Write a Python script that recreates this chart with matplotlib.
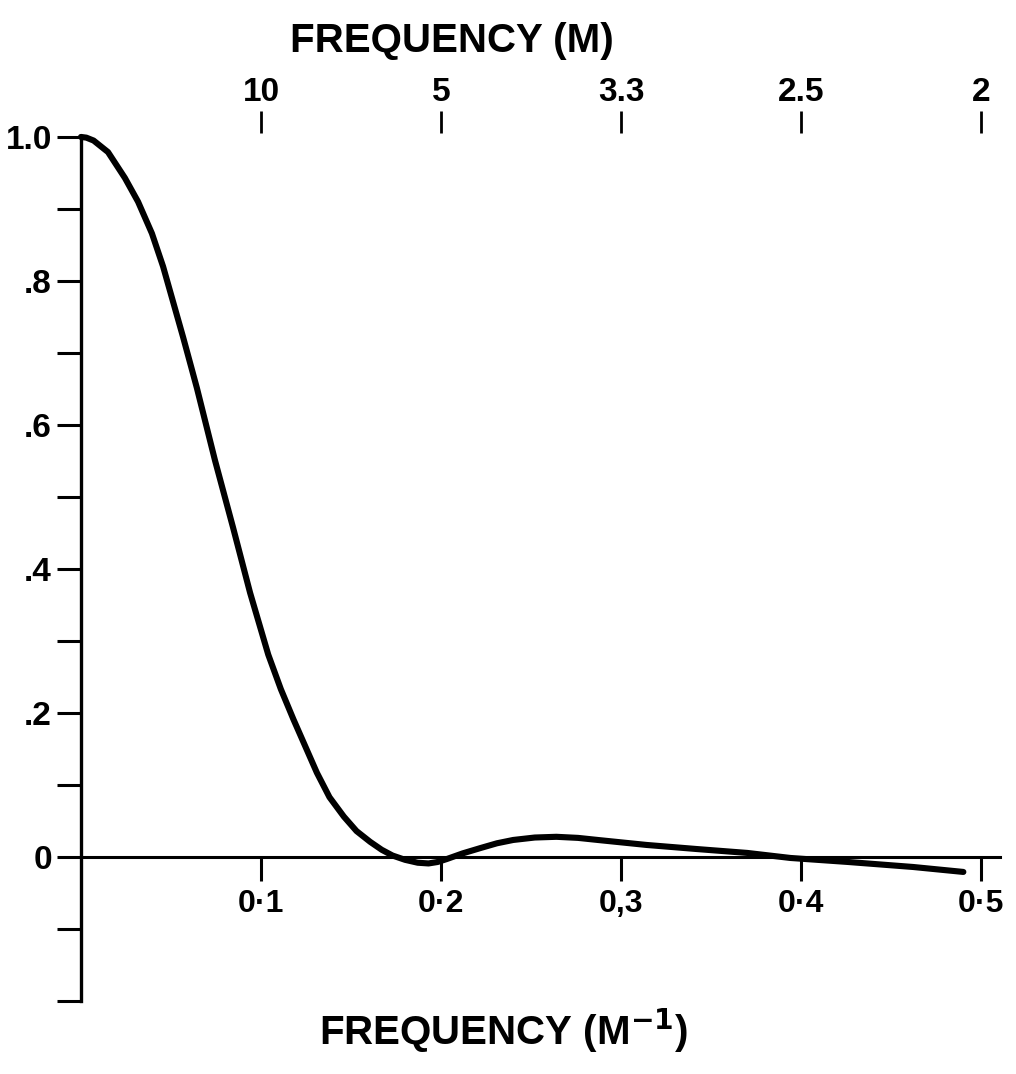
import matplotlib
matplotlib.use("Agg")
import matplotlib.pyplot as plt

# curve
freq = [0.0, 0.003, 0.007, 0.015, 0.0244, 0.0317, 0.0394, 0.0456, 0.0567, 0.0617,
        0.0644, 0.0744, 0.0844, 0.0939, 0.104, 0.111, 0.118, 0.131, 0.138, 0.146,
        0.153, 0.1606, 0.167, 0.173, 0.180, 0.187, 0.193, 0.198, 0.203, 0.212,
        0.222, 0.231, 0.240, 0.252, 0.264, 0.276, 0.287, 0.314, 0.342, 0.370,
        0.394, 0.4256, 0.462, 0.490]
resp = [1.0, 0.999, 0.995, 0.979, 0.943, 0.910, 0.866, 0.820, 0.722, 0.676,
        0.651, 0.551, 0.458, 0.367, 0.281, 0.233, 0.191, 0.117, 0.083, 0.056,
        0.036, 0.021, 0.010, 0.002, -0.004, -0.008, -0.009, -0.007, -0.003, 0.005,
        0.0125, 0.019, 0.0236, 0.027, 0.028, 0.0265, 0.0236, 0.0167, 0.011, 0.0056,
        -0.0014, -0.0069, -0.0139, -0.0208]

x_ticks = [0.1, 0.2, 0.3, 0.4, 0.5]
x_ticklabels = ["0·1", "0·2", "0,3", "0·4", "0·5"]
y_ticks = [-0.2, -0.1, 0.0, 0.1, 0.2, 0.3, 0.4, 0.5, 0.6, 0.7, 0.8, 0.9, 1.0]
y_ticklabels = ["", "", "0", "", ".2", "", ".4", "", ".6", "", ".8", "", "1.0"]
top_ticks = [0.1, 0.2, 0.3, 0.4, 0.5]
top_ticklabels = ["10", "5", "3.3", "2.5", "2"]

plt.rcParams['font.family'] = ['Liberation Sans', 'DejaVu Sans']
plt.rcParams['font.weight'] = 'bold'
plt.rcParams['mathtext.default'] = 'bf'

fig = plt.figure(figsize=(10.16, 10.74), dpi=100)
ax = fig.add_axes([0.0797, 0.068, 0.905, 0.8045])

ax.plot(freq, resp, color='black', lw=4.4, solid_capstyle='round',
        solid_joinstyle='round', clip_on=False)

ax.set_xlim(0, 0.5106)
ax.set_ylim(-0.2, 1.0)

for s in ['top', 'right']:
    ax.spines[s].set_visible(False)
ax.spines['bottom'].set_position(('data', 0))
ax.spines['bottom'].set_linewidth(2.2)
ax.spines['left'].set_linewidth(2.4)

ax.set_xticks(x_ticks)
ax.set_xticklabels(x_ticklabels, fontsize=23, fontweight='bold')
ax.set_yticks(y_ticks)
ax.set_yticklabels(y_ticklabels, fontsize=24, fontweight='bold')
ax.tick_params(axis='x', direction='out', length=17, width=2.2, pad=6)
ax.tick_params(axis='y', direction='out', length=17, width=2.2, pad=4)

sec = ax.secondary_xaxis(1.005)
sec.set_xticks(top_ticks)
sec.set_xticklabels(top_ticklabels, fontsize=24, fontweight='bold',
                    family=['Liberation Sans Narrow', 'Liberation Sans'])
sec.spines['top'].set_visible(False)
sec.tick_params(axis='x', direction='out', length=16, width=2.0, pad=2)

fig.text(0.445, 0.962, "FREQUENCY (M)", ha='center', va='center', fontsize=29, fontweight='bold')
fig.text(0.496, 0.040, "FREQUENCY (M$^{-1}$)", ha='center', va='center', fontsize=29, fontweight='bold')

fig.savefig("out.png", dpi=100)
